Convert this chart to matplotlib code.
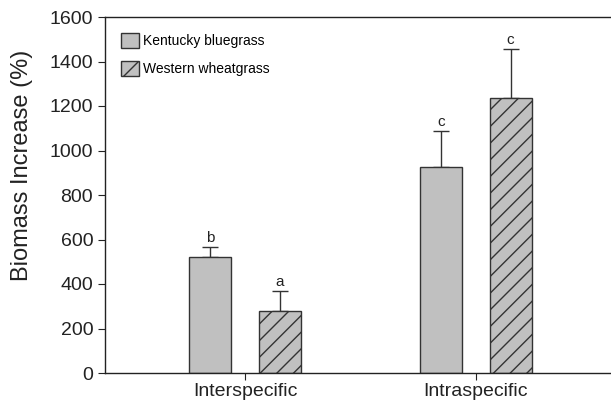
"""Biomass increase bar chart (interspecific vs intraspecific competition)."""

import matplotlib

matplotlib.use("Agg")
import matplotlib.pyplot as plt
import numpy as np

plt.rcParams["font.family"] = ["Liberation Sans", "DejaVu Sans"]
plt.rcParams["hatch.linewidth"] = 1.0
plt.rcParams["hatch.color"] = "#333333"

# Data
categories = ["Interspecific", "Intraspecific"]
species = ["Kentucky bluegrass", "Western wheatgrass"]
kentucky_mean = [522, 926]
kentucky_err = [45, 162]
western_mean = [279, 1236]
western_err = [90, 220]
kentucky_letters = ["b", "c"]
western_letters = ["a", "c"]

fig = plt.figure(figsize=(6.11, 4.00), dpi=100)
# axes runs a little past the right edge, like the cropped original
ax = fig.add_axes([105 / 611, 27 / 400, (620 - 105) / 611, 356 / 400])

x = np.arange(len(categories))
width = 0.182
offset = 0.15
bar_color = "#c0c0c0"
edge = "#333333"

series = [
    (kentucky_mean, kentucky_err, kentucky_letters, -offset, None),
    (western_mean, western_err, western_letters, offset, "//"),
]
for (means, errs, letters, dx, hatch), label in zip(series, species):
    ax.bar(
        x + dx, means, width, color=bar_color, edgecolor=edge, linewidth=1.0,
        hatch=hatch, label=label, zorder=2,
    )
    ax.errorbar(
        x + dx, means, yerr=[np.zeros(len(errs)), errs], fmt="none",
        ecolor=edge, elinewidth=1.0, capsize=6, capthick=1.0, zorder=1,
    )
    for xi, m, e, letter in zip(x + dx, means, errs, letters):
        ax.annotate(letter, (xi, m + e), xytext=(0, 1.5), textcoords="offset points",
                    ha="center", va="bottom", fontsize=11, color="#222222")

ax.set_xlim(-0.606, (620 - 245) / 231)
ax.set_ylim(0, 1600)
ax.set_yticks(np.arange(0, 1601, 200))
ax.set_xticks(x)
ax.set_xticklabels(categories, fontsize=14)
ax.tick_params(axis="y", labelsize=14, direction="out", length=5, width=0.8, colors="#222222")
ax.tick_params(axis="x", direction="out", length=5, width=0.8, pad=2, colors="#222222")
ax.set_ylabel("Biomass Increase (%)", fontsize=17, color="#222222")
ax.yaxis.set_label_coords((33 - 105) / 515, (373 - 165) / 356)

for side in ["left", "top", "bottom"]:
    ax.spines[side].set_color("#222222")
    ax.spines[side].set_linewidth(1.0)
ax.spines["right"].set_visible(False)

ax.legend(
    loc="upper left", frameon=False, fontsize=10, handlelength=1.3, handleheight=1.3,
    handletextpad=0.3, labelspacing=0.95, borderaxespad=0.0,
    bbox_to_anchor=(10 / 515, 1 - 10 / 356),
)

fig.savefig("out.png", dpi=100)
plt.close(fig)
